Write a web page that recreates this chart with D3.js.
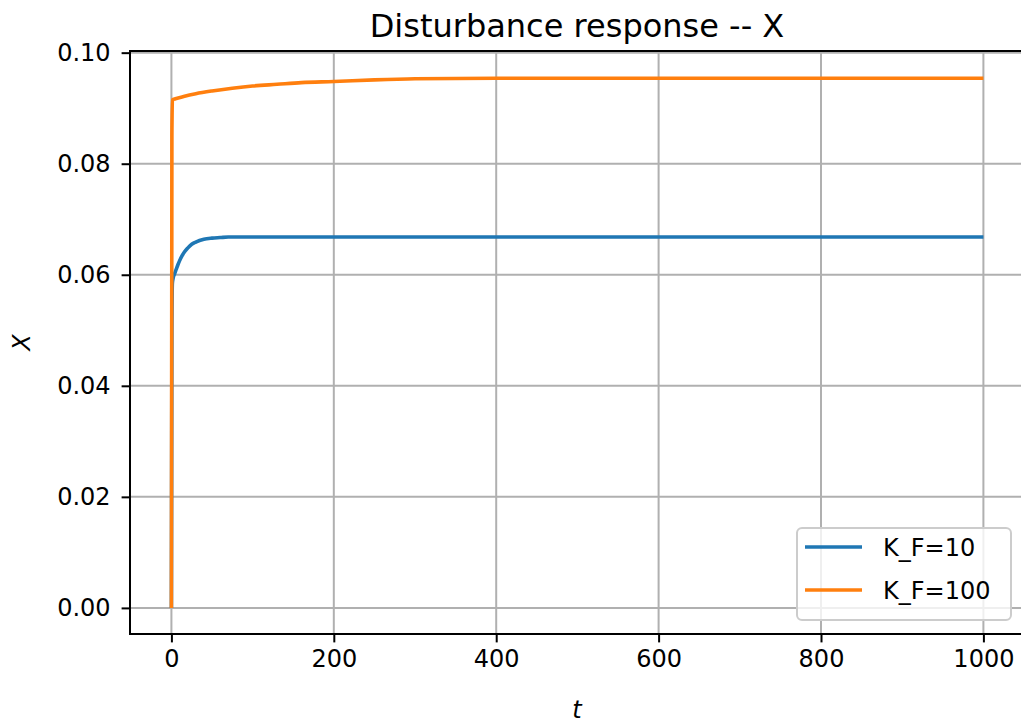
<!DOCTYPE html>
<html>
<head>
<meta charset="utf-8">
<script src="https://cdnjs.cloudflare.com/ajax/libs/d3/7.8.5/d3.min.js"></script>
<style>
  body { margin: 0; background: #fff; overflow: hidden; }
  svg { display: block; }
  text { font-family: "DejaVu Sans", sans-serif; fill: #000; }
</style>
</head>
<body>
<svg></svg>
<script>

// data
var tLow  = [0, 0.6, 1.2, 2, 4, 6, 8, 10, 13, 16, 20, 25, 30, 40, 50, 60, 70, 80, 100, 1000];
var xLow  = [0, 0.050, 0.0585, 0.0593, 0.0602, 0.0610, 0.0618, 0.0625, 0.0634, 0.0641, 0.0648, 0.0655, 0.0659, 0.0664, 0.0666, 0.0667, 0.0668, 0.0668, 0.0668, 0.0668];

var tHigh = [0, 0.6, 1.2, 5, 15, 30, 50, 75, 100, 130, 160, 200, 250, 300, 400, 1000];
var xHigh = [0, 0.085, 0.0915, 0.0917, 0.0921, 0.0926, 0.0931, 0.0936, 0.0940, 0.0943, 0.0946, 0.0948, 0.0951, 0.0953, 0.0954, 0.0954];

var seriesNames = ["K_F=10", "K_F=100"];
var seriesColors = ["#1f77b4", "#ff7f0e"];

var xTicks = [0, 200, 400, 600, 800, 1000];
var yTicks = [0, 0.02, 0.04, 0.06, 0.08, 0.10];

var width = 1021;
var height = 725;

var svg = d3.select("svg")
            .attr("width", width)
            .attr("height", height);

svg.append("rect").attr("width", width).attr("height", height).attr("fill", "#fff");

var plotLeft = 130, plotRight = 1024, plotTop = 51, plotBottom = 634;

var xScale = d3.scaleLinear().domain([-51, 1050]).range([plotLeft, plotRight]);
var yScale = d3.scaleLinear().domain([-0.0047, 0.1003]).range([plotBottom, plotTop]);

// grid
svg.selectAll(".gx")
  .data(xTicks)
  .enter()
  .append("line")
  .attr("x1", function(d) { return xScale(d); })
  .attr("x2", function(d) { return xScale(d); })
  .attr("y1", plotTop)
  .attr("y2", plotBottom)
  .attr("stroke", "#b0b0b0")
  .attr("stroke-width", 2);

svg.selectAll(".gy")
  .data(yTicks)
  .enter()
  .append("line")
  .attr("x1", plotLeft)
  .attr("x2", width)
  .attr("y1", function(d) { return yScale(d); })
  .attr("y2", function(d) { return yScale(d); })
  .attr("stroke", "#b0b0b0")
  .attr("stroke-width", 2);

// lines
var line = d3.line()
  .x(function(d) { return xScale(d[0]); })
  .y(function(d) { return yScale(d[1]); })
  .curve(d3.curveMonotoneX);

var series = [d3.zip(tLow, xLow), d3.zip(tHigh, xHigh)];

svg.selectAll(".series")
  .data(series)
  .enter()
  .append("path")
  .attr("d", line)
  .attr("fill", "none")
  .attr("stroke", function(d, i) { return seriesColors[i]; })
  .attr("stroke-width", 3.6)
  .attr("stroke-linejoin", "round");

// axes
var xAxis = d3.axisBottom(xScale).tickValues(xTicks).tickSize(8.4).tickPadding(8)
  .tickFormat(d3.format("d"));
var yAxis = d3.axisLeft(yScale).tickValues(yTicks).tickSize(8.4).tickPadding(11)
  .tickFormat(d3.format(".2f"));

var gx = svg.append("g").attr("transform", "translate(0," + plotBottom + ")").call(xAxis);
var gy = svg.append("g").attr("transform", "translate(" + plotLeft + ",0)").call(yAxis);

[gx, gy].forEach(function(g)
{
  g.select(".domain").remove();
  g.selectAll(".tick line").attr("stroke", "#000").attr("stroke-width", 2);
  g.selectAll(".tick text").attr("font-size", 24).attr("font-family", "DejaVu Sans").attr("fill", "#222");
});

// spines (the right one falls outside the picture)
var spines = [
  [plotLeft, plotTop, plotLeft, plotBottom],
  [plotLeft, plotTop, width, plotTop],
  [plotLeft, plotBottom, width, plotBottom]
];
svg.selectAll(".spine")
  .data(spines)
  .enter()
  .append("line")
  .attr("x1", function(d) { return d[0]; })
  .attr("y1", function(d) { return d[1]; })
  .attr("x2", function(d) { return d[2]; })
  .attr("y2", function(d) { return d[3]; })
  .attr("stroke", "#000")
  .attr("stroke-width", 2)
  .attr("stroke-linecap", "square");

// title and labels
svg.append("text")
  .attr("x", (plotLeft + plotRight) / 2)
  .attr("y", 37)
  .attr("text-anchor", "middle")
  .attr("font-size", 32)
  .attr("fill", "#222")
  .text("Disturbance response -- X");

svg.append("text")
  .attr("x", (plotLeft + plotRight) / 2)
  .attr("y", 718)
  .attr("text-anchor", "middle")
  .attr("font-size", 24)
  .attr("font-style", "italic")
  .text("t");

svg.append("text")
  .attr("transform", "translate(30," + (plotTop + plotBottom) / 2 + ") rotate(-90)")
  .attr("text-anchor", "middle")
  .attr("font-size", 24)
  .attr("font-style", "italic")
  .text("X");

// legend
var legend = svg.append("g");

legend.append("rect")
  .attr("x", 797)
  .attr("y", 528)
  .attr("width", 214)
  .attr("height", 92)
  .attr("rx", 5)
  .attr("fill", "#fff")
  .attr("fill-opacity", 0.8)
  .attr("stroke", "#cccccc")
  .attr("stroke-width", 2);

var items = legend.selectAll(".item")
  .data(seriesNames)
  .enter()
  .append("g")
  .attr("transform", function(d, i) { return "translate(0," + (547 + i * 43) + ")"; });

items.append("line")
  .attr("x1", 805)
  .attr("x2", 862)
  .attr("stroke", function(d, i) { return seriesColors[i]; })
  .attr("stroke-width", 3.6);

items.append("text")
  .attr("x", 883)
  .attr("dy", "0.36em")
  .attr("font-size", 24)
  .attr("fill", "#222")
  .text(function(d) { return d; });

</script>
</body>
</html>
